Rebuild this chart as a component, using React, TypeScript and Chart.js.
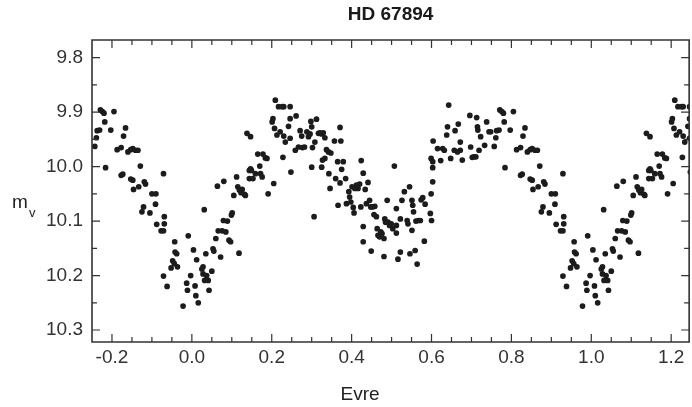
import { useEffect, useRef } from "react";
import { Chart, registerables } from "chart.js";

Chart.register(...registerables);

// Phase-folded photometry of HD 67894 (phase in [0, 1), V magnitude)
const phase = [
  0.757, 0.761, 0.763, 0.769, 0.771, 0.776, 0.780, 0.782, 0.784, 0.797,
  0.805, 0.813, 0.823, 0.829, 0.834, 0.840, 0.847, 0.852, 0.859, 0.865,
  0.871, 0.823, 0.827, 0.847, 0.852, 0.854, 0.867, 0.881, 0.884, 0.875,
  0.879, 0.895, 0.900, 0.910, 0.909, 0.912, 0.923, 0.929, 0.931, 0.931,
  0.929, 0.957, 0.958, 0.962, 0.952, 0.956, 0.964, 0.948, 0.929, 0.938,
  0.978, 0.987, 0.991, 0.989, 0.997, 0.004, 0.008, 0.010, 0.012, 0.016,
  0.025, 0.028, 0.031, 0.028, 0.035, 0.032, 0.037, 0.041, 0.043, 0.050,
  0.053, 0.055, 0.060, 0.064, 0.066, 0.072, 0.076, 0.080, 0.079, 0.085,
  0.089, 0.093, 0.097, 0.099, 0.101, 0.105, 0.112, 0.115, 0.118, 0.119,
  0.123, 0.126, 0.132, 0.134, 0.138, 0.144, 0.147, 0.147, 0.144, 0.149,
  0.153, 0.159, 0.165, 0.170, 0.172, 0.176, 0.178, 0.184, 0.188, 0.191,
  0.201, 0.203, 0.205, 0.207, 0.209, 0.213,
  0.217, 0.226, 0.230, 0.246, 0.246, 0.261, 0.221, 0.230, 0.234, 0.242,
  0.246, 0.228, 0.248, 0.259, 0.267, 0.271, 0.275, 0.277, 0.282, 0.288,
  0.292, 0.296, 0.298, 0.300, 0.300, 0.302, 0.306, 0.308, 0.312, 0.317,
  0.321, 0.325, 0.329, 0.333, 0.325, 0.327, 0.333, 0.337, 0.342, 0.343,
  0.346, 0.348, 0.357, 0.360, 0.365, 0.366, 0.371, 0.371, 0.373, 0.375,
  0.379, 0.385, 0.387, 0.393, 0.395, 0.398, 0.401, 0.404, 0.406, 0.408,
  0.412, 0.416, 0.420, 0.423, 0.424, 0.429, 0.429, 0.429, 0.434, 0.437,
  0.441, 0.445, 0.448, 0.449, 0.452, 0.456, 0.458, 0.462, 0.464, 0.466,
  0.470, 0.473, 0.476, 0.481, 0.481, 0.483, 0.485, 0.489, 0.491, 0.495,
  0.499, 0.503, 0.507, 0.512, 0.512, 0.512, 0.516, 0.522, 0.522, 0.526,
  0.532, 0.539, 0.541, 0.545, 0.546, 0.551, 0.551, 0.553, 0.555, 0.559,
  0.561, 0.564, 0.567, 0.572, 0.574, 0.578, 0.582, 0.584, 0.597, 0.599,
  0.600, 0.603, 0.603, 0.604, 0.599, 0.603, 0.615, 0.623, 0.628, 0.632,
  0.638, 0.640, 0.643, 0.648, 0.657, 0.659, 0.665, 0.667, 0.672, 0.672,
  0.677, 0.696, 0.698, 0.702, 0.706, 0.711, 0.713, 0.715, 0.716, 0.719,
  0.723, 0.733, 0.738, 0.744, 0.748,
];

const mag = [
  9.963, 9.947, 9.934, 9.933, 9.896, 9.899, 9.902, 9.918, 10.002, 9.933,
  9.899, 9.969, 9.965, 9.944, 9.929, 9.973, 9.969, 9.967, 9.970, 9.970,
  9.999, 10.016, 10.014, 10.023, 10.025, 10.042, 10.037, 10.028, 10.032, 10.083,
  10.074, 10.085, 10.050, 10.050, 10.069, 10.106, 10.118, 10.118, 10.105, 10.092,
  10.013, 10.138, 10.157, 10.160, 10.173, 10.178, 10.184, 10.186, 10.201, 10.220,
  10.256, 10.214, 10.127, 10.227, 10.200, 10.153, 10.219, 10.237, 10.171, 10.250,
  10.188, 10.184, 10.079, 10.197, 10.160, 10.209, 10.200, 10.209, 10.227, 10.192,
  10.151, 10.155, 10.132, 10.036, 10.118, 10.166, 10.118, 10.027, 10.099, 10.120,
  10.100, 10.135, 10.138, 10.089, 10.085, 10.053, 10.019, 10.037, 10.159, 10.043,
  10.048, 10.042, 10.051, 10.053, 9.939, 10.022, 10.004, 9.945, 10.007, 10.007,
  10.022, 10.013, 9.977, 9.999, 10.013, 10.019, 9.977, 9.984, 9.985, 10.050,
  9.918, 9.912, 10.031, 9.930, 9.878, 9.942,
  9.890, 9.890, 9.890, 9.890, 9.912, 9.907, 9.936, 9.944, 9.955, 9.926,
  9.948, 9.983, 10.010, 9.970, 9.964, 9.934, 9.944, 9.965, 9.964, 9.936,
  9.945, 9.940, 9.917, 9.927, 10.001, 9.965, 10.092, 9.955, 9.913, 9.939,
  9.938, 9.940, 9.938, 9.947, 10.001, 9.988, 9.985, 9.969, 9.973, 10.013,
  10.040, 9.975, 9.953, 10.022, 9.991, 10.071, 9.928, 10.030, 9.953, 10.005,
  9.991, 10.022, 10.068, 10.046, 10.056, 10.065, 10.037, 10.075, 10.085, 10.040,
  10.034, 10.040, 10.032, 10.074, 9.989, 10.012, 10.110, 10.138, 10.042, 10.068,
  10.029, 10.062, 10.074, 10.155, 10.074, 10.088, 10.073, 10.092, 10.114, 10.126,
  10.129, 10.120, 10.123, 10.132, 10.165, 10.096, 10.102, 10.062, 10.102, 10.108,
  10.105, 10.114, 9.999, 10.077, 10.108, 10.122, 10.170, 10.096, 10.157, 10.062,
  10.046, 10.099, 10.105, 10.037, 10.160, 10.062, 10.117, 10.071, 10.083, 10.154,
  10.100, 10.179, 10.099, 10.099, 10.061, 10.057, 10.137, 10.069, 10.086, 10.050,
  10.099, 10.028, 10.002, 9.953, 9.985, 9.991, 9.967, 9.989, 9.967, 9.970,
  9.942, 9.927, 9.887, 9.985, 9.970, 9.934, 9.973, 9.922, 9.955, 9.970,
  9.988, 9.906, 9.964, 9.983, 9.982, 9.982, 9.910, 9.927, 9.933, 9.970,
  9.945, 9.961, 9.918, 9.936, 9.936,
];

const xTickLabels = [-0.2, 0.0, 0.2, 0.4, 0.6, 0.8, 1.0, 1.2];
const yTickLabels = [9.8, 9.9, 10.0, 10.1, 10.2, 10.3];

const TITLE = "HD 67894";
const X_LABEL = "Evre";
const Y_LABEL = "m";
const Y_LABEL_SUB = "v";

const X_MIN = -0.25;
const X_MAX = 1.245;
const Y_MIN = 9.7676;
const Y_MAX = 10.322;
const MINOR_STEP = 0.05;

const FONT = "'Liberation Sans', Arial, Helvetica, sans-serif";

// Each observation is repeated one cycle earlier / later so the curve spans
// phases -0.25 .. 1.25.
function foldedPoints() {
  const pts: { x: number; y: number }[] = [];
  phase.forEach((p, i) => {
    for (const shift of [-1, 0, 1]) {
      const x = p + shift;
      if (x >= X_MIN && x <= 1.25) pts.push({ x, y: mag[i] });
    }
  });
  return pts;
}

// Boxed frame with inward tick marks on all four sides, plus axis titles.
const framePlugin = {
  id: "frameTicks",
  afterDraw(chart: any) {
    const { ctx, chartArea, scales } = chart;
    const { left, right, top, bottom } = chartArea;
    const xs = scales.x;
    const ys = scales.y;
    ctx.save();
    ctx.strokeStyle = "#333";
    ctx.lineWidth = 1.6;
    ctx.beginPath();
    ctx.moveTo(left, top);
    ctx.lineTo(right, top);
    ctx.lineTo(right, bottom);
    ctx.lineTo(left, bottom);
    ctx.closePath();
    ctx.stroke();

    ctx.lineWidth = 1.2;
    ctx.beginPath();
    const xMajor = new Set(xTickLabels.map((v) => Math.round(v * 100)));
    for (let v = Math.ceil(X_MIN / MINOR_STEP) * MINOR_STEP; v <= X_MAX; v += MINOR_STEP) {
      const px = xs.getPixelForValue(v);
      if (px <= left + 1 || px >= right - 1) continue;
      const len = xMajor.has(Math.round(v * 100)) ? 8 : 5;
      ctx.moveTo(px, bottom);
      ctx.lineTo(px, bottom - len);
      ctx.moveTo(px, top);
      ctx.lineTo(px, top + len);
    }
    const yMajor = new Set(yTickLabels.map((v) => Math.round(v * 100)));
    for (let v = Math.ceil(Y_MIN / MINOR_STEP) * MINOR_STEP; v <= Y_MAX; v += MINOR_STEP) {
      const py = ys.getPixelForValue(v);
      if (py <= top + 1 || py >= bottom - 1) continue;
      const len = yMajor.has(Math.round(v * 100)) ? 8 : 5;
      ctx.moveTo(left, py);
      ctx.lineTo(left + len, py);
      ctx.moveTo(right, py);
      ctx.lineTo(right - len, py);
    }
    ctx.stroke();

    ctx.fillStyle = "#222";
    ctx.textBaseline = "alphabetic";
    ctx.textAlign = "center";
    ctx.font = `19px ${FONT}`;
    ctx.fillText(X_LABEL, 360, 400);

    ctx.textAlign = "left";
    ctx.fillText(Y_LABEL, 12, 208);
    ctx.font = `13px ${FONT}`;
    ctx.fillText(Y_LABEL_SUB, 29, 217);
    ctx.restore();
  },
};

export default function App() {
  const canvasRef = useRef<HTMLCanvasElement | null>(null);

  useEffect(() => {
    const canvas = canvasRef.current;
    if (!canvas) return;
    const chart = new Chart(canvas, {
      type: "scatter",
      data: {
        datasets: [
          {
            data: foldedPoints(),
            backgroundColor: "#1c1c1c",
            borderWidth: 0,
            pointRadius: 2.85,
            pointHoverRadius: 2.85,
          },
        ],
      },
      options: {
        responsive: false,
        animation: false,
        devicePixelRatio: 1,
        layout: { padding: { left: 0, right: 1, top: 0, bottom: 0 } },
        plugins: {
          legend: { display: false },
          tooltip: { enabled: false },
          title: {
            display: true,
            text: TITLE,
            fullSize: false,
            color: "#1a1a1a",
            font: { family: FONT, size: 19, weight: "bold", lineHeight: 1.2 },
            padding: { top: 3, bottom: 14.2 },
          },
        },
        scales: {
          x: {
            type: "linear",
            min: X_MIN,
            max: X_MAX,
            grid: { display: false, drawTicks: false },
            border: { display: false },
            ticks: {
              stepSize: 0.2,
              includeBounds: false,
              autoSkip: false,
              maxRotation: 0,
              padding: 4,
              color: "#333",
              font: { family: FONT, size: 19 },
              callback: (v: any) => Number(v).toFixed(1),
            },
            afterFit: (s: any) => {
              s.height = 65;
            },
          },
          y: {
            type: "linear",
            min: Y_MIN,
            max: Y_MAX,
            reverse: true,
            grid: { display: false, drawTicks: false },
            border: { display: false },
            ticks: {
              stepSize: 0.1,
              includeBounds: false,
              autoSkip: false,
              padding: 9,
              color: "#333",
              font: { family: FONT, size: 19 },
              callback: (v: any) => Number(v).toFixed(1),
            },
            afterFit: (s: any) => {
              s.width = 92;
            },
          },
        },
      },
      plugins: [framePlugin],
    });
    return () => chart.destroy();
  }, []);

  return (
    <div style={{ position: "absolute", left: 0, top: 0, width: 692, height: 407, background: "#fff" }}>
      <canvas ref={canvasRef} width={692} height={407} style={{ display: "block" }} />
    </div>
  );
}
